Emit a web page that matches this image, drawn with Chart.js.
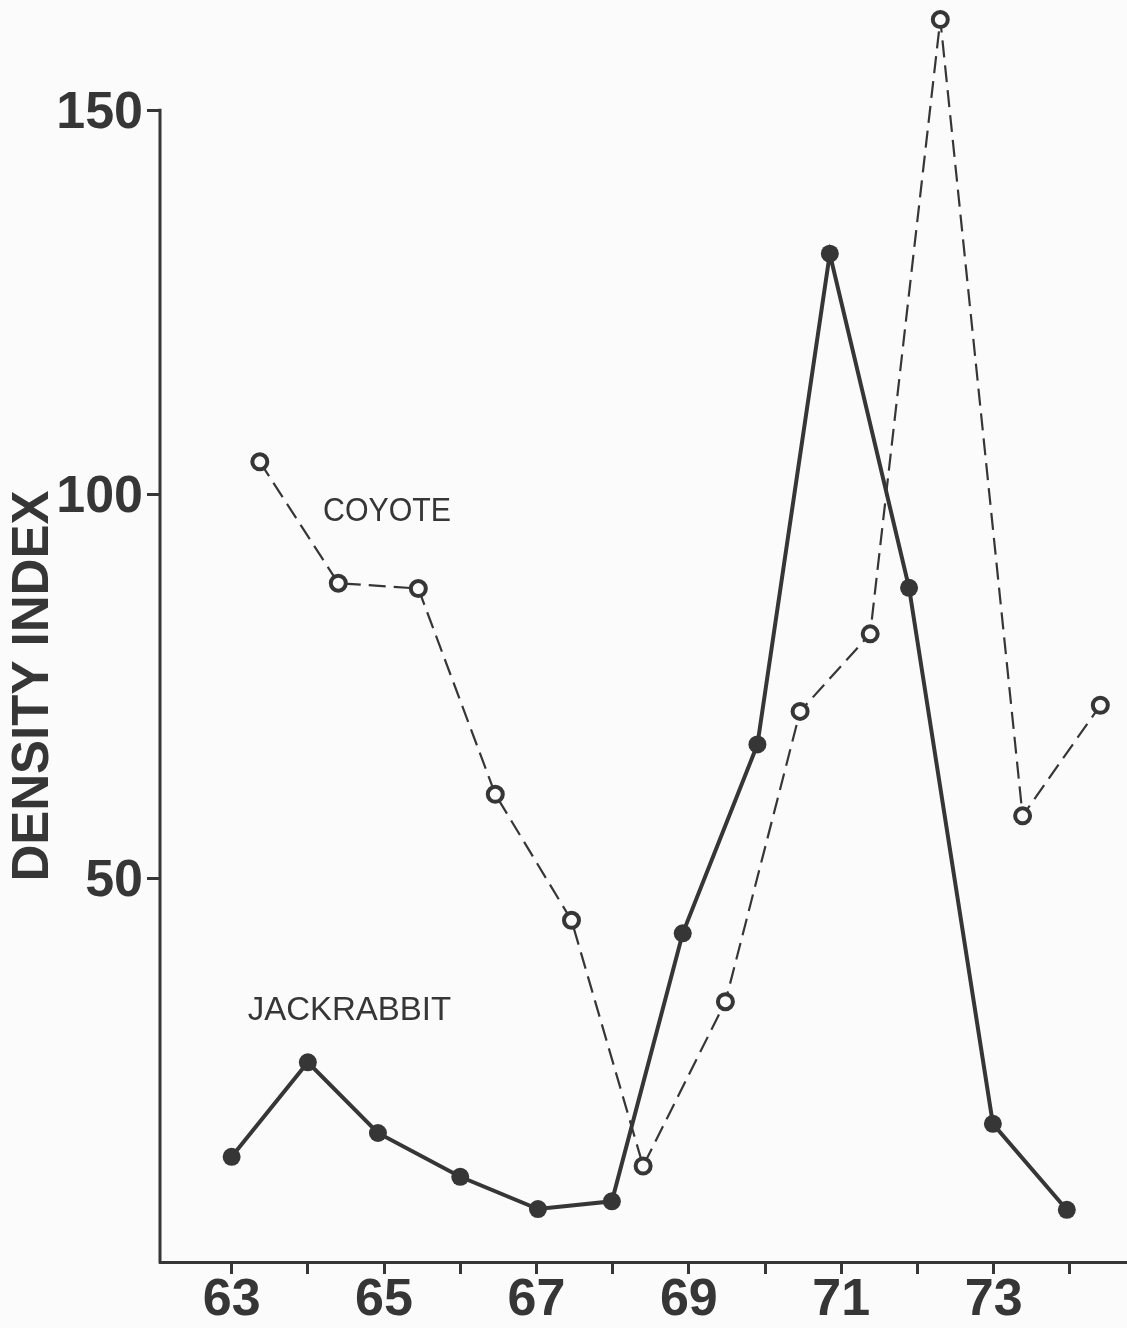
<!DOCTYPE html>
<html>
<head>
<meta charset="utf-8">
<title>Coyote and jackrabbit density index</title>
<script src="https://cdn.jsdelivr.net/npm/chart.js@4.4.1/dist/chart.umd.min.js"></script>
<style>
  html, body { margin: 0; padding: 0; background: #fbfbfb; }
  #wrap { width: 1127px; height: 1328px; }
  canvas { display: block; }
</style>
</head>
<body>
<div id="wrap"><canvas id="chart" width="1127" height="1328"></canvas></div>
<script>
// Survey years (19xx) and density index for each species
const jackrabbitYears = [63, 64, 64.92, 66, 67.02, 67.99, 68.92, 69.9, 70.85, 71.89, 72.99, 73.96];
const jackrabbitIndex = [13.7, 26.0, 16.8, 11.1, 6.9, 7.9, 42.8, 67.4, 131.3, 87.8, 18.0, 6.8];

const coyoteYears = [63.37, 64.4, 65.45, 66.46, 67.46, 68.4, 69.48, 70.46, 71.38, 72.3, 73.38, 74.4];
const coyoteIndex = [104.2, 88.4, 87.7, 60.9, 44.5, 12.5, 33.9, 71.7, 81.8, 161.8, 58.1, 72.5];

// Axis ticks
const xTickValues = [63, 64, 65, 66, 67, 68, 69, 70, 71, 72, 73, 74];
const xTickLabels = ['63', '', '65', '', '67', '', '69', '', '71', '', '73', ''];
const yTickValues = [50, 100, 150];
const yAxisTop = 150;
const yAxisTitle = 'DENSITY INDEX';

const INK = '#363636';
const PAPER = '#fbfbfb';
const FONT = 'Liberation Sans, Arial, sans-serif';

const toPoints = (xs, ys) => xs.map((x, i) => ({ x: x, y: ys[i] }));

// The vertical axis line and its title span only 0 .. top labelled tick
const valueAxis = {
  id: 'valueAxis',
  beforeDatasetsDraw(chart, args, opts) {
    const { ctx, chartArea, scales } = chart;
    const yTop = scales.y.getPixelForValue(opts.top);
    const yBottom = scales.y.getPixelForValue(0);
    ctx.save();
    ctx.strokeStyle = opts.color;
    ctx.lineWidth = opts.width;
    ctx.lineCap = 'square';
    ctx.beginPath();
    ctx.moveTo(chartArea.left, yTop);
    ctx.lineTo(chartArea.left, yBottom);
    ctx.stroke();

    ctx.translate(scales.y.left + opts.titleOffset, (yTop + yBottom) / 2);
    ctx.rotate(-Math.PI / 2);
    ctx.font = opts.titleFont;
    ctx.fillStyle = opts.color;
    ctx.textAlign = 'center';
    ctx.textBaseline = 'middle';
    ctx.fillText(opts.title, 0, 0);
    ctx.restore();
  }
};

// Writes the species names next to their curves, anchored in data units
const seriesLabels = {
  id: 'seriesLabels',
  afterDatasetsDraw(chart, args, opts) {
    const { ctx, scales } = chart;
    ctx.save();
    ctx.font = opts.font;
    ctx.fillStyle = opts.color;
    ctx.textAlign = 'left';
    ctx.textBaseline = 'middle';
    opts.items.forEach(item => {
      ctx.fillText(item.text, scales.x.getPixelForValue(item.x), scales.y.getPixelForValue(item.y), item.maxWidth);
    });
    ctx.restore();
  }
};

new Chart(document.getElementById('chart'), {
  type: 'line',
  data: {
    datasets: [
      {
        label: 'JACKRABBIT',
        data: toPoints(jackrabbitYears, jackrabbitIndex),
        borderColor: INK,
        borderWidth: 4,
        tension: 0,
        pointRadius: 9,
        pointBackgroundColor: INK,
        pointBorderWidth: 0,
        clip: false
      },
      {
        label: 'COYOTE',
        data: toPoints(coyoteYears, coyoteIndex),
        borderColor: INK,
        borderWidth: 2.2,
        borderDash: [17, 8],
        tension: 0,
        pointRadius: 7.5,
        pointBorderColor: INK,
        pointBackgroundColor: PAPER,
        pointBorderWidth: 4,
        clip: false
      }
    ]
  },
  options: {
    responsive: false,
    devicePixelRatio: 1,
    animation: false,
    events: [],
    layout: { autoPadding: false, padding: { top: 8, left: 0, right: 0, bottom: 0 } },
    plugins: {
      legend: { display: false },
      tooltip: { enabled: false },
      valueAxis: {
        color: INK,
        width: 3,
        top: yAxisTop,
        title: yAxisTitle,
        titleFont: 'bold 51px ' + FONT,
        titleOffset: 34
      },
      seriesLabels: {
        font: '33px ' + FONT,
        color: INK,
        items: [
          { text: 'COYOTE', x: 64.2, y: 97.7, maxWidth: 128 },
          { text: 'JACKRABBIT', x: 63.21, y: 32.7, maxWidth: 209 }
        ]
      }
    },
    scales: {
      x: {
        type: 'linear',
        min: 62.06,
        max: 74.75,
        afterBuildTicks: scale => { scale.ticks = xTickValues.map(v => ({ value: v })); },
        ticks: {
          autoSkip: false,
          maxRotation: 0,
          color: INK,
          padding: 1,
          font: { family: FONT, size: 52, weight: 'bold', lineHeight: 1 },
          callback: (value, index) => xTickLabels[index]
        },
        grid: { drawOnChartArea: false, drawTicks: true, tickLength: 12, tickWidth: 3, tickColor: INK },
        border: { display: true, color: INK, width: 3 }
      },
      y: {
        min: 0,
        max: 163.3,
        afterBuildTicks: scale => { scale.ticks = yTickValues.map(v => ({ value: v })); },
        afterFit: scale => {
          scale.width = 160;
          scale.paddingTop = 0;
          scale.paddingBottom = 0;
        },
        ticks: {
          color: INK,
          padding: 4,
          labelOffset: 4,
          font: { family: FONT, size: 52, weight: 'bold', lineHeight: 1 }
        },
        grid: { drawOnChartArea: false, drawTicks: true, tickLength: 13, tickWidth: 3, tickColor: INK },
        border: { display: false }
      }
    }
  },
  plugins: [valueAxis, seriesLabels]
});
</script>
</body>
</html>
